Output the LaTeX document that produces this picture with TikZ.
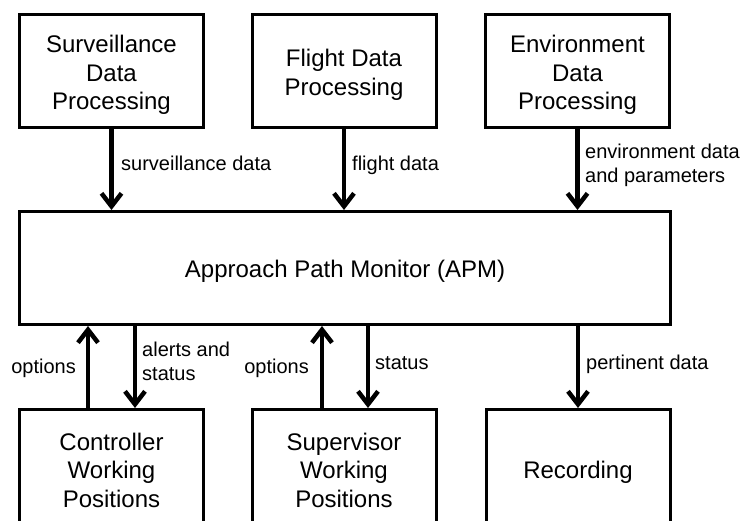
\documentclass[tikz,border=0pt]{standalone}
\usepackage{fontspec}
\setmainfont{Liberation Sans}
\usetikzlibrary{arrows.meta}
\begin{document}
\begin{tikzpicture}[x=1pt,y=-1pt,
  block/.style={draw, line width=3pt, minimum width=184pt, minimum height=113pt, inner sep=0pt},
  blocktext/.style={align=center, inner sep=0pt, yshift=-4pt, font=\fontsize{24}{28.5}\selectfont},
  flow/.style={line width=4.5pt, -{Straight Barb[length=13pt,width=20pt]}},
  lbl/.style={inner sep=0pt, align=left, font=\fontsize{20}{24}\selectfont}]
\useasboundingbox (0,0) rectangle (742,520);
\clip (0,0) rectangle (742,520);

% processing blocks feeding the monitor
\node[block, label={[blocktext]center:{Surveillance\\Data\\Processing}}] (sdp) at (111.5,71) {};
\node[block, label={[blocktext]center:{Flight Data\\Processing}}] (fdp) at (344,71) {};
\node[block, label={[blocktext]center:{Environment\\Data\\Processing}}] (edp) at (577.5,71) {};

% central monitor
\node[block, minimum width=651pt, label={[blocktext, yshift=1pt]center:{Approach Path Monitor (APM)}}] (apm) at (345,268) {};

% consumers (boxes run past the lower edge)
\node[block, label={[blocktext]center:{Controller\\Working\\Positions}}] (cwp) at (111.5,466) {};
\node[block, label={[blocktext]center:{Supervisor\\Working\\Positions}}] (swp) at (344,466) {};
\node[block, label={[blocktext, yshift=-2pt]center:{Recording}}] (rec) at (578,466) {};

% inputs
\draw[flow] (sdp.south) -- (sdp.south |- apm.north);
\draw[flow] (fdp.south) -- (fdp.south |- apm.north);
\draw[flow] (edp.south) -- (edp.south |- apm.north);
\node[lbl, anchor=base west] (lsd) at (121,170) {surveillance data};
\node[lbl, anchor=base west] (lfd) at (352,170) {flight data};
\node[lbl, anchor=west] (led) at (585,165) {environment data\\and parameters};

% controller link
\draw[flow] ([xshift=-23.5pt]cwp.north) -- ([xshift=-23.5pt]cwp.north |- apm.south);
\draw[flow] ([xshift=23.5pt]cwp.north |- apm.south) -- ([xshift=23.5pt]cwp.north);
\node[lbl, anchor=east] (lco) at (76,368) {options};
\node[lbl, anchor=west] (las) at (142,361) {alerts and\\status};

% supervisor link
\draw[flow] ([xshift=-22pt]swp.north) -- ([xshift=-22pt]swp.north |- apm.south);
\draw[flow] ([xshift=24pt]swp.north |- apm.south) -- ([xshift=24pt]swp.north);
\node[lbl, anchor=east] (lso) at (309,368) {options};
\node[lbl, anchor=base west] (lst) at (375,369) {status};

% recording link
\draw[flow] (rec.north |- apm.south) -- (rec.north);
\node[lbl, anchor=base west] (lpd) at (586,369) {pertinent data};
\end{tikzpicture}
\end{document}
